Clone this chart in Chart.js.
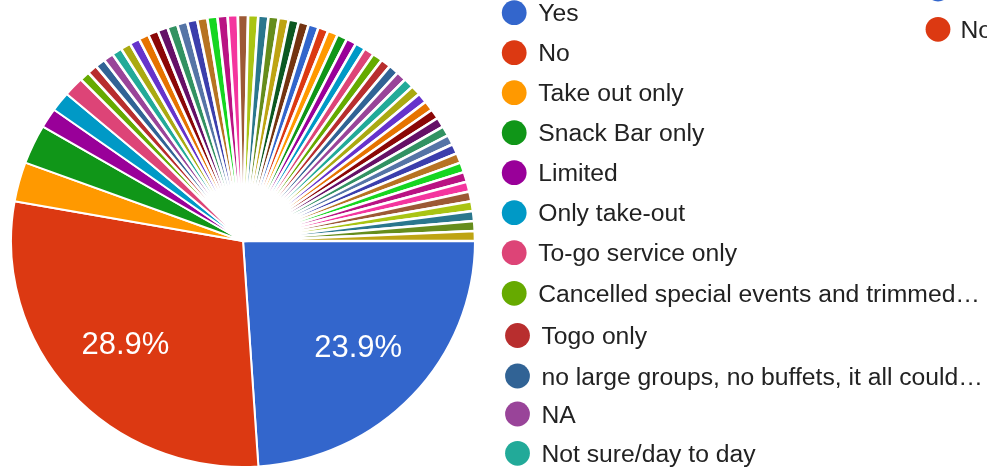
<!DOCTYPE html>
<html>
<head>
<meta charset="utf-8">
<script src="https://cdn.jsdelivr.net/npm/chart.js@4/dist/chart.umd.min.js"></script>
<style>
  html, body { margin: 0; padding: 0; background: #ffffff; overflow: hidden; }
  #wrap { width: 987px; height: 467px; position: relative; }
</style>
</head>
<body>
<div id="wrap"><canvas id="c" width="987" height="467"></canvas></div>
<script>
// Survey answers, in the order the pie draws them (clockwise from 3 o'clock)
const answerLabels = [
  'Yes', 'No', 'Take out only', 'Snack Bar only', 'Limited', 'Only take-out',
  'To-go service only', 'Cancelled special events and trimmed\u2026', 'Togo only',
  'no large groups, no buffets, it all could\u2026', 'NA', 'Not sure/day to day',
  'Other answer 13', 'Other answer 14', 'Other answer 15', 'Other answer 16',
  'Other answer 17', 'Other answer 18', 'Other answer 19', 'Other answer 20',
  'Other answer 21', 'Other answer 22', 'Other answer 23', 'Other answer 24',
  'Other answer 25', 'Other answer 26', 'Other answer 27', 'Other answer 28',
  'Other answer 29', 'Other answer 30', 'Other answer 31', 'Other answer 32',
  'Other answer 33', 'Other answer 34', 'Other answer 35', 'Other answer 36',
  'Other answer 37', 'Other answer 38', 'Other answer 39', 'Other answer 40',
  'Other answer 41', 'Other answer 42', 'Other answer 43', 'Other answer 44',
  'Other answer 45', 'Other answer 46', 'Other answer 47', 'Other answer 48',
  'Other answer 49', 'Other answer 50', 'Other answer 51', 'Other answer 52',
  'Other answer 53', 'Other answer 54', 'Other answer 55', 'Other answer 56',
  'Other answer 57', 'Other answer 58', 'Other answer 59', 'Other answer 60'
];

// Number of responses per answer (142 in total)
const answerCounts = [
  34, 41, 4, 4, 2, 2, 2, 1, 1, 1, 1, 1,
  1, 1, 1, 1, 1, 1, 1, 1, 1, 1, 1, 1,
  1, 1, 1, 1, 1, 1, 1, 1, 1, 1, 1, 1,
  1, 1, 1, 1, 1, 1, 1, 1, 1, 1, 1, 1,
  1, 1, 1, 1, 1, 1, 1, 1, 1, 1, 1, 1
];

// How many legend entries are listed in the main legend column
const legendEntryCount = 12;

// Classic Google chart palette, cycled over the slices
const googlePalette = [
  '#3366cc', '#dc3912', '#ff9900', '#109618', '#990099', '#0099c6', '#dd4477',
  '#66aa00', '#b82e2e', '#316395', '#994499', '#22aa99', '#aaaa11', '#6633cc',
  '#e67300', '#8b0707', '#651067', '#329262', '#5574a6', '#3b3eac', '#b77322',
  '#16d620', '#b91383', '#f4359e', '#9c5935', '#a9c413', '#2a778d', '#668d1c',
  '#bea413', '#0c5922', '#743411'
];

// Layout constants
const PIE_RADIUS = 232;
const PIE_Y_SCALE = 226 / 232;
const LEGEND_ROW_Y = [12.7, 52.7, 92.7, 132.7, 172.7, 212.7, 252.7, 293.3, 335.5, 376, 414, 453.3];
const LEGEND_ROW_SHIFT = [0, 0, 0, 0, 0, 0, 0, 0, 3.3, 3.3, 3.3, 3.3];
const LEGEND_DOT_X = 514.2;
const LEGEND_TEXT_GAP = 24;
const LEGEND_DOT_R = 12.4;
const LEGEND_FONT = '24.7px "Liberation Sans", Arial, sans-serif';
const LEGEND2_DOT_X = 938;
const LEGEND2_ROW_Y = [-11, 29.3];

const sliceColors = answerLabels.map((_, i) => googlePalette[i % googlePalette.length]);
const totalCount = answerCounts.reduce((a, b) => a + b, 0);

// Slightly flattened pie: scale the dataset drawing vertically around the centre
const flattenPie = {
  id: 'flattenPie',
  beforeDatasetsDraw(chart) {
    const arc = chart.getDatasetMeta(0).data[0];
    const ctx = chart.ctx;
    ctx.save();
    ctx.translate(arc.x, arc.y);
    ctx.scale(1, PIE_Y_SCALE);
    ctx.translate(-arc.x, -arc.y);
  },
  afterDatasetsDraw(chart) {
    chart.ctx.restore();
  }
};

// Percentage text inside the large slices
const sliceLabels = {
  id: 'sliceLabels',
  afterDatasetsDraw(chart) {
    const ctx = chart.ctx;
    const meta = chart.getDatasetMeta(0);
    ctx.save();
    ctx.font = '31px "Liberation Sans", Arial, sans-serif';
    ctx.fillStyle = '#ffffff';
    ctx.textAlign = 'center';
    ctx.textBaseline = 'alphabetic';
    meta.data.forEach((arc, i) => {
      const share = answerCounts[i] / totalCount;
      if (share < 0.05) return;
      const mid = (arc.startAngle + arc.endAngle) / 2;
      const r = arc.outerRadius * 0.68;
      const x = arc.x + Math.cos(mid) * r;
      const y = arc.y + Math.sin(mid) * r * PIE_Y_SCALE;
      ctx.fillText((share * 100).toFixed(1) + '%', x, y + 11);
    });
    ctx.restore();
  }
};

// Legend drawn beside the pie
const sideLegend = {
  id: 'sideLegend',
  afterDraw(chart) {
    const ctx = chart.ctx;
    ctx.save();
    ctx.font = LEGEND_FONT;
    ctx.textAlign = 'left';
    ctx.textBaseline = 'alphabetic';
    const drawEntry = (i, dotX, rowY, gap) => {
      ctx.beginPath();
      ctx.arc(dotX, rowY, LEGEND_DOT_R, 0, Math.PI * 2);
      ctx.fillStyle = sliceColors[i];
      ctx.fill();
      ctx.fillStyle = '#222222';
      ctx.fillText(answerLabels[i], dotX + gap, rowY + 8.7);
    };
    for (let i = 0; i < legendEntryCount; i++) {
      const shift = LEGEND_ROW_SHIFT[i];
      drawEntry(i, LEGEND_DOT_X + shift, LEGEND_ROW_Y[i], LEGEND_TEXT_GAP);
    }
    // next legend column, running off the right edge
    LEGEND2_ROW_Y.forEach((y, i) => drawEntry(i, LEGEND2_DOT_X, y, 22.5));
    ctx.restore();
  }
};

new Chart(document.getElementById('c'), {
  type: 'pie',
  data: {
    labels: answerLabels,
    datasets: [{
      data: answerCounts,
      backgroundColor: sliceColors,
      borderColor: '#ffffff',
      // single-response slices get a slightly wider white separator
      borderWidth: (ctx) => (answerCounts[ctx.dataIndex] === 1 ? 2.6 : 2),
      clip: false
    }]
  },
  options: {
    responsive: false,
    devicePixelRatio: 1,
    animation: false,
    events: [],
    rotation: 90,
    radius: PIE_RADIUS,
    layout: { padding: { left: 0, right: 501, top: 15, bottom: 0 } },
    plugins: {
      legend: { display: false },
      tooltip: { enabled: false }
    }
  },
  plugins: [flattenPie, sliceLabels, sideLegend]
});
</script>
</body>
</html>
